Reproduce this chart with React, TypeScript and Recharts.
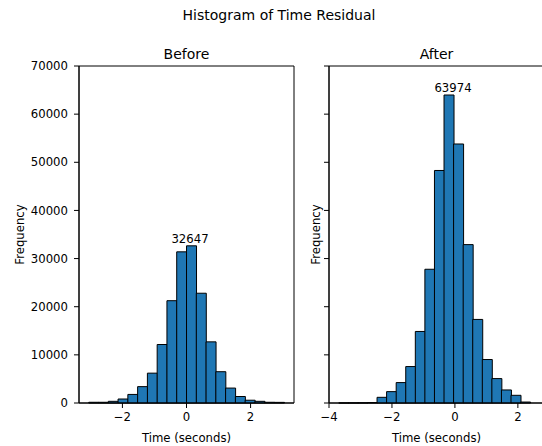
import React from 'react';
import { ComposedChart, Bar, XAxis, YAxis, ReferenceArea, LabelList, Label } from 'recharts';

const FONT = '"DejaVu Sans", sans-serif';

// ---- shared text / axis data ----
const SUPTITLE = 'Histogram of Time Residual';
const Y_LABEL = 'Frequency';
const X_LABEL = 'Time (seconds)';
const Y_TICKS = [0, 10000, 20000, 30000, 40000, 50000, 60000, 70000];
const Y_DOMAIN: [number, number] = [0, 70000];

// ---- "Before" panel ----
const beforeTitle = 'Before';
const beforeCenters = [
  -2.898, -2.593, -2.288, -1.983, -1.678, -1.373, -1.068, -0.763, -0.458, -0.153,
  0.153, 0.458, 0.763, 1.068, 1.373, 1.678, 1.983, 2.288, 2.593, 2.898,
];
const beforeCounts = [
  150, 150, 350, 830, 1780, 3400, 6200, 12150, 21250, 31400,
  32647, 22800, 12700, 6500, 3100, 1350, 580, 350, 150, 130,
];
const beforeXTicks = [-2, 0, 2];
const beforeXDomain: [number, number] = [-3.355, 3.355];

// ---- "After" panel ----
const afterTitle = 'After';
const afterCenters = [
  -3.538, -3.234, -2.93, -2.626, -2.322, -2.018, -1.714, -1.41, -1.106, -0.802,
  -0.498, -0.194, 0.11, 0.414, 0.718, 1.022, 1.326, 1.63, 1.934, 2.238,
];
const afterCounts = [
  10, 20, 40, 100, 1180, 2360, 4240, 7570, 14860, 27780,
  48300, 63974, 53800, 32900, 17360, 9030, 5070, 2710, 1600, 200,
];
const afterXTicks = [-4, -2, 0, 2];
const afterXDomain: [number, number] = [-4.0, 2.83];

const fmtTick = (v: number) => (v < 0 ? `\u2212${Math.abs(v)}` : `${v}`);

type PanelProps = {
  title: string;
  centers: number[];
  counts: number[];
  xTicks: number[];
  xDomain: [number, number];
  showYTickLabels: boolean;
  yLabelDx: number;
  peakDx: number;
  left: number;
  margin: { top: number; right: number; bottom: number; left: number };
};

function Panel(p: PanelProps) {
  const data = p.centers.map((x, i) => ({ x, count: p.counts[i] }));
  const peak = Math.max(...p.counts);
  const tickStyle = { fontSize: 11.7, fill: '#000', fontFamily: FONT };
  return (
    <div style={{ position: 'absolute', left: p.left, top: 0 }}>
      <ComposedChart
        width={300}
        height={446}
        data={data}
        margin={p.margin}
        barCategoryGap={0}
        barGap={0}
      >
        <XAxis
          dataKey="x"
          type="number"
          domain={p.xDomain}
          allowDataOverflow
          ticks={p.xTicks}
          interval={0}
          tickFormatter={fmtTick}
          tickSize={5}
          tickMargin={5}
          height={43}
          axisLine={{ stroke: '#000', strokeWidth: 1 }}
          tickLine={{ stroke: '#000', strokeWidth: 1 }}
          tick={tickStyle}
        >
          <Label
            content={(lp: any) => {
              const vb = lp.viewBox || {};
              return (
                <text
                  x={vb.x + vb.width / 2}
                  y={vb.y + 39}
                  textAnchor="middle"
                  fontSize={11.7}
                  fontFamily={FONT}
                  fill="#000"
                >
                  {X_LABEL}
                </text>
              );
            }}
          />
        </XAxis>
        <YAxis
          type="number"
          domain={Y_DOMAIN}
          ticks={Y_TICKS}
          interval={0}
          width={60}
          tickSize={5}
          tickMargin={6}
          tickFormatter={p.showYTickLabels ? (v: number) => `${v}` : () => ''}
          axisLine={{ stroke: '#000', strokeWidth: 1 }}
          tickLine={{ stroke: '#000', strokeWidth: 1 }}
          tick={tickStyle}
        >
          <Label
            content={(lp: any) => {
              const vb = lp.viewBox || {};
              const cx = vb.x + p.yLabelDx;
              const cy = vb.y + vb.height / 2;
              return (
                <text
                  x={cx}
                  y={cy}
                  transform={`rotate(-90, ${cx}, ${cy})`}
                  textAnchor="middle"
                  fontSize={11.7}
                  fontFamily={FONT}
                  fill="#000"
                >
                  {Y_LABEL}
                </text>
              );
            }}
          />
        </YAxis>
        <Bar
          dataKey="count"
          fill="#1f77b4"
          stroke="#000"
          strokeWidth={1}
          isAnimationActive={false}
        >
          <LabelList
            dataKey="count"
            content={(lp: any) => {
              if (Number(lp.value) !== peak) return null;
              return (
                <text
                  x={Number(lp.x) + Number(lp.width) / 2 + p.peakDx}
                  y={Number(lp.y) - 3}
                  textAnchor="middle"
                  fontSize={11.7}
                  fontFamily={FONT}
                  fill="#000"
                >
                  {lp.value}
                </text>
              );
            }}
          />
        </Bar>
        <ReferenceArea
          x1={p.xDomain[0]}
          x2={p.xDomain[1]}
          y1={Y_DOMAIN[0]}
          y2={Y_DOMAIN[1]}
          fill="none"
          fillOpacity={0}
          stroke="#000"
          strokeWidth={1}
          ifOverflow="visible"
          label={(lp: any) => {
            const vb = lp.viewBox || {};
            return (
              <text
                x={vb.x + vb.width / 2}
                y={vb.y - 7.5}
                textAnchor="middle"
                fontSize={14}
                fontFamily={FONT}
                fill="#000"
              >
                {p.title}
              </text>
            );
          }}
        />
      </ComposedChart>
    </div>
  );
}

export default function App() {
  return (
    <div
      style={{
        position: 'fixed',
        left: 0,
        top: 0,
        width: 542,
        height: 446,
        overflow: 'hidden',
        background: '#fff',
      }}
    >
      <svg
        width={542}
        height={30}
        style={{ position: 'absolute', left: 0, top: 0 }}
      >
        <text x={279} y={20} textAnchor="middle" fontSize={14} fontFamily={FONT} fill="#000">
          {SUPTITLE}
        </text>
      </svg>
      <Panel
        title={beforeTitle}
        centers={beforeCenters}
        counts={beforeCounts}
        xTicks={beforeXTicks}
        xDomain={beforeXDomain}
        showYTickLabels
        yLabelDx={4.5}
        peakDx={-1.5}
        left={0}
        margin={{ top: 66, right: 6, bottom: 0, left: 19 }}
      />
      <Panel
        title={afterTitle}
        centers={afterCenters}
        counts={afterCounts}
        xTicks={afterXTicks}
        xDomain={afterXDomain}
        showYTickLabels={false}
        yLabelDx={51.2}
        peakDx={4}
        left={258}
        margin={{ top: 66, right: 14, bottom: 0, left: 11 }}
      />
    </div>
  );
}
